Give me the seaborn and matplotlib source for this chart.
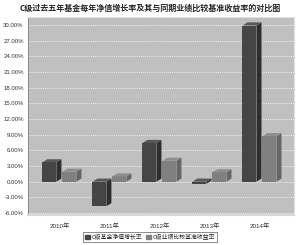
import pandas as pd
import matplotlib
matplotlib.use('Agg')
import matplotlib.pyplot as plt
import seaborn as sns
from matplotlib.patches import Polygon
from matplotlib.ticker import FuncFormatter

years = ['2010年', '2011年', '2012年', '2013年', '2014年']
fund = [3.7, -4.7, 7.4, -0.4, 29.9]
bench = [1.9, 1.0, 4.0, 1.8, 8.7]
series = ['C级基金净值增长率', 'C级业绩比较基准收益率']
yticks = [-6, -3, 0, 3, 6, 9, 12, 15, 18, 21, 24, 27, 30]

df = pd.DataFrame({
    'year': years * 2,
    'value': fund + bench,
    'series': [series[0]] * 5 + [series[1]] * 5,
})

sns.set_style('white')
plt.rcParams['font.family'] = ['Liberation Sans', 'Noto Sans CJK SC', 'DejaVu Sans']

fig = plt.figure(figsize=(3.0, 2.45), dpi=100)
ax = fig.add_axes([0.093, 0.122, 0.887, 0.808])
ax.set_facecolor('#c0c0c0')

sns.barplot(data=df, x='year', y='value', hue='series', ax=ax,
            palette=['#454545', '#808080'], width=0.8, gap=0.3,
            saturation=1, edgecolor='none', legend=False)

# fake 3D depth on each bar
dx, dy = 0.1, 0.6
shade = {'#454545': ('#2e2e2e', '#585858'), '#808080': ('#666666', '#8e8e8e')}
for p in list(ax.patches):
    x0, w = p.get_x(), p.get_width()
    y0, h = p.get_y(), p.get_height()
    lo, hi = min(y0, y0 + h), max(y0, y0 + h)
    col = matplotlib.colors.to_hex(p.get_facecolor())
    side, top = shade.get(col, ('#333333', '#666666'))
    ax.add_patch(Polygon([(x0 + w, lo), (x0 + w + dx, lo + dy), (x0 + w + dx, hi + dy), (x0 + w, hi)],
                         closed=True, facecolor=side, edgecolor='none', zorder=p.get_zorder()))
    ax.add_patch(Polygon([(x0, hi), (x0 + dx, hi + dy), (x0 + w + dx, hi + dy), (x0 + w, hi)],
                         closed=True, facecolor=top, edgecolor='none', zorder=p.get_zorder()))

ax.set_ylim(-6.4, 31.5)
ax.set_xlim(-0.63, 4.69)
ax.set_yticks(yticks)
ax.yaxis.set_major_formatter(FuncFormatter(lambda v, _: f'{v:.2f}%'))
ax.grid(axis='y', color='white', linestyle=(0, (1, 1.5)), linewidth=0.6)
ax.set_axisbelow(True)
ax.tick_params(axis='y', labelsize=4.3, length=2, width=0.5, pad=1, colors='#333333')
ax.tick_params(axis='x', labelsize=4.5, length=2, width=0.5, pad=4, colors='#333333')
ax.set_xlabel('')
ax.set_ylabel('')
for s in ['top', 'right']:
    ax.spines[s].set_color('#e0e0e0')
    ax.spines[s].set_linewidth(0.8)
ax.spines['left'].set_color('#808080')
ax.spines['left'].set_linewidth(0.6)
ax.spines['bottom'].set_color('#d8d8d8')
ax.spines['bottom'].set_linewidth(1.5)

fig.text(0.5, 0.965, 'C级过去五年基金每年净值增长率及其与同期业绩比较基准收益率的对比图',
         ha='center', va='center', fontsize=5.8, fontweight='bold',
         family=['Noto Sans CJK SC', 'DejaVu Sans'])

handles = [plt.Rectangle((0, 0), 1, 1, color=c) for c in ['#454545', '#808080']]
leg = fig.legend(handles, series, loc='center', bbox_to_anchor=(0.5, 0.033), ncol=2,
                 fontsize=4.2, frameon=True, handlelength=0.8, handleheight=0.8,
                 handletextpad=0.3, columnspacing=0.6, borderpad=0.3, fancybox=False,
                 prop={'family': ['Noto Sans CJK SC', 'DejaVu Sans'], 'size': 4.2})
leg.get_frame().set_edgecolor('#333333')
leg.get_frame().set_linewidth(0.5)

fig.savefig('out.png', dpi=100, facecolor='white')
